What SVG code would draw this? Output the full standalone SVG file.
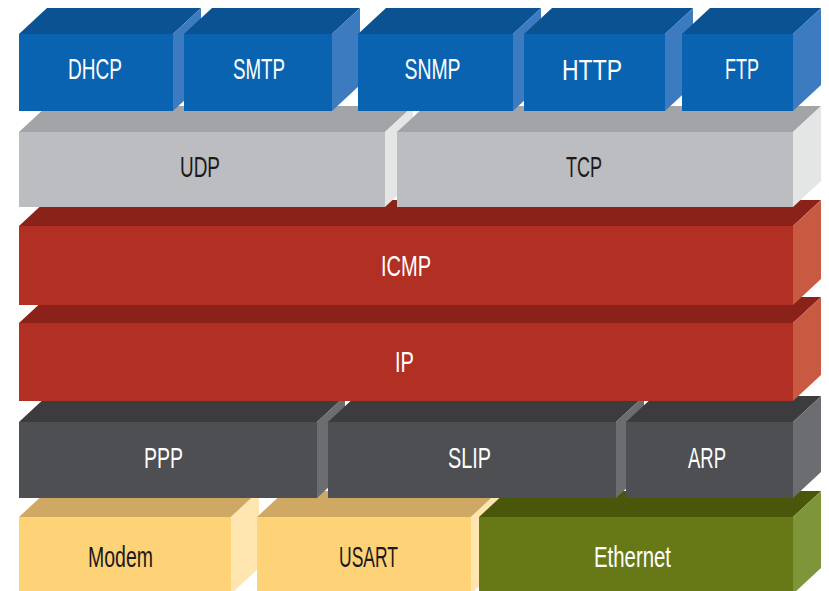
<svg xmlns="http://www.w3.org/2000/svg" width="829" height="591" viewBox="0 0 829 591">
<style>
text{font-family:"Liberation Sans",Arial,sans-serif;font-size:30px;text-anchor:middle}
.lt{fill:#ffffff}.dk{fill:#1a1a1a}
.bF{fill:#0963B0}.bT{fill:#0A5292}.bR{fill:#3D7BC1}
.gF{fill:#BCBDC0}.gT{fill:#A2A4A7}.gR{fill:#E4E5E5}
.rF{fill:#B23023}.rT{fill:#8A2219}.rR{fill:#C95A42}
.dF{fill:#4E4F52}.dT{fill:#3C3C3E}.dR{fill:#6C6D71}
.yF{fill:#FED378}.yT{fill:#CFA964}.yR{fill:#FFE6B0}
.eF{fill:#667916}.eT{fill:#4A570A}.eR{fill:#7E9539}
</style>
<rect width="829" height="591" fill="#ffffff"/>

<!-- Bottom row: y=517 h=77 -->
<g id="modem">
<polygon class="yT" points="19,517 47,491 259,491 231,517"/>
<polygon class="yR" points="231,517 259,491 259,568 231,594"/>
<rect class="yF" x="19" y="517" width="212" height="77"/>
<text class="dk" x="120.5" y="567" textLength="65" lengthAdjust="spacingAndGlyphs">Modem</text>
</g>
<g id="usart">
<polygon class="yT" points="257,517 285,491 499,491 471,517"/>
<polygon class="yR" points="471,517 499,491 499,568 471,594"/>
<rect class="yF" x="257" y="517" width="214" height="77"/>
<text class="dk" x="368.5" y="567" textLength="59" lengthAdjust="spacingAndGlyphs">USART</text>
</g>
<g id="ethernet">
<polygon class="eT" points="479,517 507,491 821,491 793,517"/>
<polygon class="eR" points="793,517 821,491 821,568 793,594"/>
<rect class="eF" x="479" y="517" width="314" height="77"/>
<text class="lt" x="632.5" y="567" textLength="77" lengthAdjust="spacingAndGlyphs">Ethernet</text>
</g>

<!-- Dark row: y=422 h=76 -->
<g id="ppp">
<polygon class="dT" points="19,422 47,396 345,396 317,422"/>
<polygon class="dR" points="317,422 345,396 345,472 317,498"/>
<rect class="dF" x="19" y="422" width="298" height="76"/>
<text class="lt" x="163.5" y="468" textLength="39" lengthAdjust="spacingAndGlyphs">PPP</text>
</g>
<g id="slip">
<polygon class="dT" points="328,422 356,396 644,396 616,422"/>
<polygon class="dR" points="616,422 644,396 644,472 616,498"/>
<rect class="dF" x="328" y="422" width="288" height="76"/>
<text class="lt" x="469.5" y="468" textLength="43" lengthAdjust="spacingAndGlyphs">SLIP</text>
</g>
<g id="arp">
<polygon class="dT" points="626,422 654,396 821,396 793,422"/>
<polygon class="dR" points="793,422 821,396 821,472 793,498"/>
<rect class="dF" x="626" y="422" width="167" height="76"/>
<text class="lt" x="707" y="468" textLength="38" lengthAdjust="spacingAndGlyphs">ARP</text>
</g>

<!-- IP: y=323 h=78 -->
<g id="ip">
<polygon class="rT" points="19,323 47,297 821,297 793,323"/>
<polygon class="rR" points="793,323 821,297 821,375 793,401"/>
<rect class="rF" x="19" y="323" width="774" height="78"/>
<text class="lt" x="404.5" y="372" textLength="19" lengthAdjust="spacingAndGlyphs">IP</text>
</g>

<!-- ICMP: y=226 h=79 -->
<g id="icmp">
<polygon class="rT" points="19,226 47,200 821,200 793,226"/>
<polygon class="rR" points="793,226 821,200 821,279 793,305"/>
<rect class="rF" x="19" y="226" width="774" height="79"/>
<text class="lt" x="406" y="276" textLength="50" lengthAdjust="spacingAndGlyphs">ICMP</text>
</g>

<!-- Gray row: y=132 h=75 -->
<g id="udp">
<polygon class="gT" points="19,132 47,106 413,106 385,132"/>
<polygon class="gR" points="385,132 413,106 413,181 385,207"/>
<rect class="gF" x="19" y="132" width="366" height="75"/>
<text class="dk" x="200" y="177" textLength="40" lengthAdjust="spacingAndGlyphs">UDP</text>
</g>
<g id="tcp">
<polygon class="gT" points="397,132 425,106 821,106 793,132"/>
<polygon class="gR" points="793,132 821,106 821,181 793,207"/>
<rect class="gF" x="397" y="132" width="396" height="75"/>
<text class="dk" x="584" y="177" textLength="36" lengthAdjust="spacingAndGlyphs">TCP</text>
</g>

<!-- Blue row: y=34 h=77 -->
<g id="dhcp">
<polygon class="bT" points="19,34 47,8 201,8 173,34"/>
<polygon class="bR" points="173,34 201,8 201,85 173,111"/>
<rect class="bF" x="19" y="34" width="154" height="77"/>
<text class="lt" x="95" y="79" textLength="54" lengthAdjust="spacingAndGlyphs">DHCP</text>
</g>
<g id="smtp">
<polygon class="bT" points="184,34 212,8 360,8 332,34"/>
<polygon class="bR" points="332,34 360,8 360,85 332,111"/>
<rect class="bF" x="184" y="34" width="148" height="77"/>
<text class="lt" x="259" y="79" textLength="52" lengthAdjust="spacingAndGlyphs">SMTP</text>
</g>
<g id="snmp">
<polygon class="bT" points="358,34 386,8 541,8 513,34"/>
<polygon class="bR" points="513,34 541,8 541,85 513,111"/>
<rect class="bF" x="358" y="34" width="155" height="77"/>
<text class="lt" x="432.5" y="79" textLength="56" lengthAdjust="spacingAndGlyphs">SNMP</text>
</g>
<g id="http">
<polygon class="bT" points="524,34 552,8 693,8 665,34"/>
<polygon class="bR" points="665,34 693,8 693,85 665,111"/>
<rect class="bF" x="524" y="34" width="141" height="77"/>
<text class="lt" x="592" y="80" textLength="60" lengthAdjust="spacingAndGlyphs">HTTP</text>
</g>
<g id="ftp">
<polygon class="bT" points="682,34 710,8 821,8 793,34"/>
<polygon class="bR" points="793,34 821,8 821,85 793,111"/>
<rect class="bF" x="682" y="34" width="111" height="77"/>
<text class="lt" x="742" y="79" textLength="34" lengthAdjust="spacingAndGlyphs">FTP</text>
</g>

<g id="connectors"></g>
</svg>
